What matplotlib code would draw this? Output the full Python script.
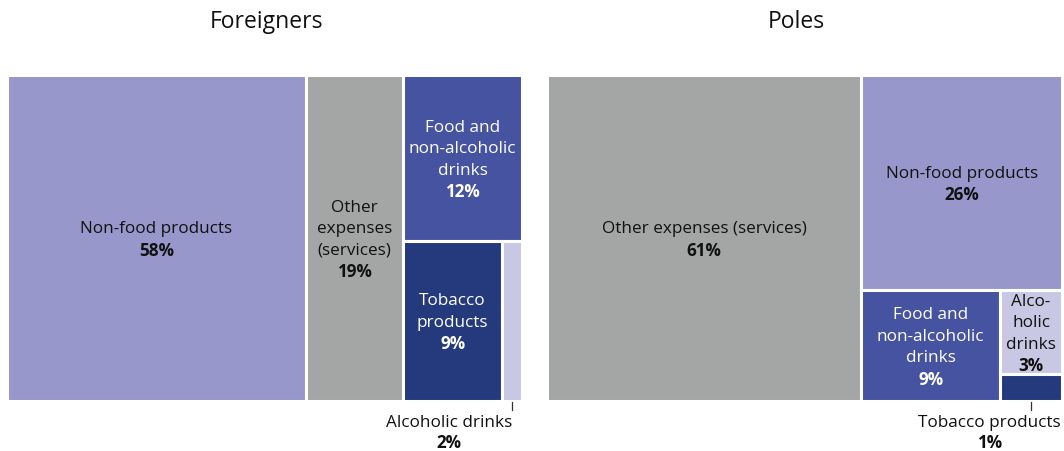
import matplotlib
matplotlib.use("Agg")
import matplotlib.pyplot as plt
from matplotlib.patches import Rectangle

plt.rcParams['font.family'] = ['Open Sans', 'DejaVu Sans']

# ---- data ----
titles = ["Foreigners", "Poles"]

cats_foreigners = ["Non-food products", "Other expenses (services)",
                   "Food and non-alcoholic drinks", "Tobacco products", "Alcoholic drinks"]
vals_foreigners = [57.9, 18.9, 11.7, 9.4, 1.9]
labels_foreigners = ["Non-food products", "Other\nexpenses\n(services)",
                     "Food and\nnon-alcoholic\ndrinks", "Tobacco\nproducts", "Alcoholic drinks"]

cats_poles = ["Other expenses (services)", "Non-food products",
              "Food and non-alcoholic drinks", "Alcoholic drinks", "Tobacco products"]
vals_poles = [61.0, 25.7, 9.2, 3.1, 1.0]
labels_poles = ["Other expenses (services)", "Non-food products",
                "Food and\nnon-alcoholic\ndrinks", "Alco-\nholic\ndrinks", "Tobacco products"]

colors = {
    "Non-food products": "#9797cb",
    "Other expenses (services)": "#a3a6a5",
    "Food and non-alcoholic drinks": "#4553a1",
    "Tobacco products": "#253a7d",
    "Alcoholic drinks": "#c8c8e5",
}
dark = {"Food and non-alcoholic drinks", "Tobacco products"}

# nested layout structure: ('h'|'v', [children]) where int = index into values
layout_foreigners = ('h', [0, 1, ('v', [2, ('h', [3, 4])])])
layout_poles = ('h', [0, ('v', [1, ('h', [2, ('v', [3, 4])])])])


def total(node, vals):
    if isinstance(node, int):
        return vals[node]
    return sum(total(c, vals) for c in node[1])


def place(node, vals, x, y, w, h, out):
    if isinstance(node, int):
        out[node] = (x, y, w, h)
        return
    d, kids = node
    t = total(node, vals)
    pos = 0.0
    for k in kids:
        f = total(k, vals) / t
        if d == 'h':
            place(k, vals, x + pos * w, y, f * w, h, out)
        else:
            place(k, vals, x, y + pos * h, w, f * h, out)
        pos += f


W, H = 515.0, 326.0
fig = plt.figure(figsize=(10.64, 4.52), dpi=100)
axes_pos = [[7 / 1064, 1 - 402 / 452, W / 1064, H / 452],
            [547 / 1064, 1 - 402 / 452, W / 1064, H / 452]]
title_dx = [2, -8]

panels = [
    (cats_foreigners, vals_foreigners, labels_foreigners, layout_foreigners, "right_at_center"),
    (cats_poles, vals_poles, labels_poles, layout_poles, "right_at_edge"),
]

FS = 12.3
LH = 21.5  # line height in pixels (= data units)
for pi, (cats, vals, labs, lay, mode) in enumerate(panels):
    ax = fig.add_axes(axes_pos[pi])
    ax.set_xlim(0, W)
    ax.set_ylim(H, 0)
    ax.axis('off')
    ax.text(W / 2 + title_dx[pi], -54, titles[pi], ha='center', va='center',
            fontsize=16.5, color='#111111', clip_on=False)
    rects = {}
    place(lay, vals, 0, 0, W, H, rects)
    for i, c in enumerate(cats):
        x, y, w, h = rects[i]
        ax.add_patch(Rectangle((x, y), w, h, facecolor=colors[c],
                               edgecolor='white', linewidth=2.2))
        col = 'white' if c in dark else '#111111'
        pct = f"{round(vals[i]):d}%"
        if w * h / (W * H) > 0.025:
            lines = labs[i].split("\n") + [pct]
            n = len(lines)
            cx, cy = x + w / 2, y + h / 2 + 1
            for k, ln in enumerate(lines):
                ax.text(cx, cy + (k - (n - 1) / 2) * LH, ln, ha='center', va='center',
                        fontsize=FS, color=col,
                        fontweight='bold' if k == n - 1 else 'normal')
        else:
            cx = x + w / 2
            ax.plot([cx, cx], [H + 1, H + 9], color='#333333', lw=0.9, clip_on=False)
            tx = cx if mode == "right_at_center" else W - 1
            lab_t = ax.text(tx, H + 21.5, labs[i], ha='right', va='center', fontsize=FS,
                            color='#111111', clip_on=False)
            fig.canvas.draw()
            bb = lab_t.get_window_extent()
            inv = ax.transData.inverted()
            (x0, _), (x1, _) = inv.transform([(bb.x0, bb.y0), (bb.x1, bb.y1)])
            ax.text((x0 + x1) / 2, H + 41.5, pct, ha='center', va='center', fontsize=FS,
                    color='#111111', fontweight='bold', clip_on=False)

fig.savefig("out.png", dpi=100, facecolor='white')
